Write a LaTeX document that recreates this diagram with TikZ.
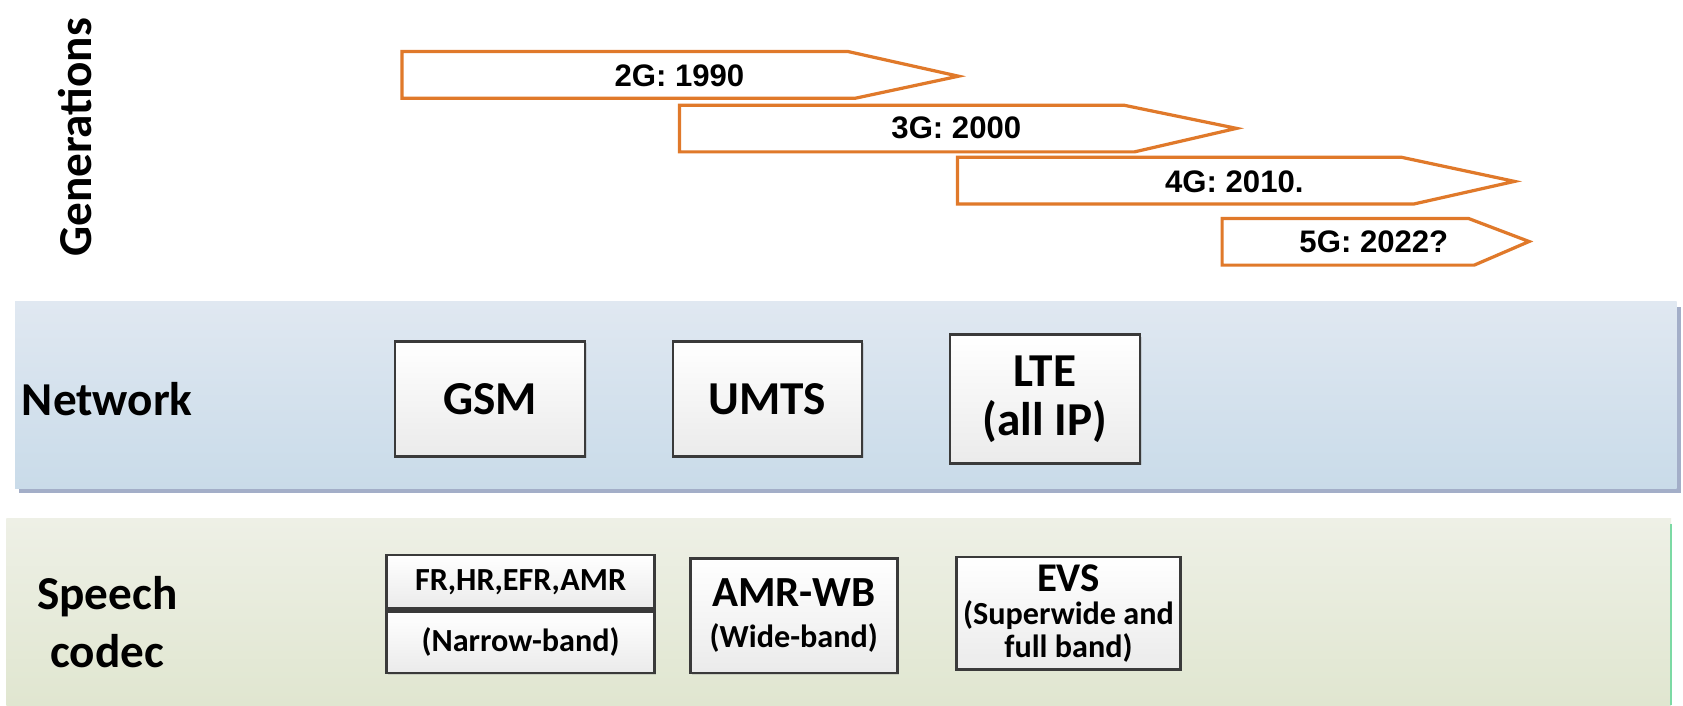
\documentclass[tikz,border=0pt]{standalone}
\usepackage{fontspec}
\setmainfont{Carlito}
\newfontfamily\arialf{Liberation Sans}
\usetikzlibrary{shadows}
\definecolor{orng}{HTML}{E0792A}
\definecolor{nettop}{HTML}{E0E8F1}
\definecolor{netbot}{HTML}{C9DBE9}
\definecolor{netshadow}{HTML}{A3AEC8}
\definecolor{spctop}{HTML}{EEF0E6}
\definecolor{spcbot}{HTML}{E0E6D0}
\definecolor{spcline}{HTML}{7CD9A4}
\definecolor{boxline}{HTML}{3A3A3A}
\tikzset{
  genarrow/.style={draw=orng, line width=1.5pt, fill=white, line join=miter},
  gentext/.style={font=\arialf\bfseries\fontsize{14.5}{16}\selectfont, inner sep=0pt},
  cbox/.style={draw=boxline, line width=1.3pt, top color=white, bottom color=black!8,
    drop shadow={shadow xshift=0.8pt, shadow yshift=-0.8pt, opacity=0.25},
    align=center, inner sep=0pt},
  lbl/.style={font=\bfseries\fontsize{22}{27}\selectfont, inner sep=0pt}
}
\begin{document}
\begin{tikzpicture}[x=0.5pt,y=-0.5pt]
\useasboundingbox (0,0) rectangle (1568,657);
\fill[white] (0,0) rectangle (1568,657);

% Generations label
\node[lbl, rotate=90] (gen) at (70,128) {Generations};

% generation arrows
\draw[genarrow] (374.5,48) -- (790,48) -- (893,71) -- (797,91.5) -- (374.5,91.5) -- cycle;
\node[gentext] (g2) at (633,71) {2G: 1990};
\draw[genarrow] (633,98) -- (1047,98) -- (1152,119.6) -- (1057,141.5) -- (633,141.5) -- cycle;
\node[gentext] (g3) at (891,119) {3G: 2000};
\draw[genarrow] (892,146.6) -- (1306,146.6) -- (1411,169) -- (1317.5,190) -- (892,190) -- cycle;
\node[gentext] (g4) at (1150,169.5) {4G: 2010.};
\draw[genarrow] (1138.6,203.5) -- (1368,203.5) -- (1424.6,225) -- (1373.5,247) -- (1138.6,247) -- cycle;
\node[gentext] (g5) at (1280,225) {5G: 2022?};

% Network band
\fill[netshadow] (18,286) rectangle (1566,459);
\shade[top color=nettop, bottom color=netbot] (14,281) rectangle (1562,455);
\node[lbl, anchor=west] (net) at (20,372) {Network};
\node[cbox, minimum width=88.5pt, minimum height=53.5pt, font=\bfseries\fontsize{22}{27}\selectfont] (gsm) at (456.5,371.5) {GSM};
\node[cbox, minimum width=88pt, minimum height=53.5pt, font=\bfseries\fontsize{22}{27}\selectfont] (umts) at (715,371.5) {UMTS};
\node[cbox, minimum width=88.5pt, minimum height=60pt, font=\bfseries\fontsize{22}{22.5}\selectfont] (lte) at (973.5,372) {LTE\\(all IP)};

% Speech codec band
\shade[top color=spctop, bottom color=spcbot] (6,483) rectangle (1557,657);
\draw[spcline, line width=1pt] (1557,488) -- (1557,657);
\node[lbl, align=center] (spc) at (100,580) {Speech\\codec};
\node[cbox, minimum width=125pt, minimum height=25pt, font=\bfseries\fontsize{15}{18}\selectfont] (fr) at (485,542) {FR,HR,EFR,AMR};
\node[cbox, minimum width=125pt, minimum height=28.5pt, font=\bfseries\fontsize{15}{18}\selectfont] (nb) at (485,598.5) {(Narrow-band)};
\node[cbox, minimum width=96.5pt, minimum height=53.5pt, font=\bfseries\fontsize{15}{19}\selectfont] (amr) at (739.5,573.5)
  {{\fontsize{20}{19}\selectfont AMR-WB}\\(Wide-band)};
\node[cbox, minimum width=104.5pt, minimum height=52.5pt, font=\bfseries\fontsize{15}{15.3}\selectfont] (evs) at (995.5,571.5)
  {{\fontsize{19}{15.3}\selectfont EVS}\\(Superwide and\\full band)};
\end{tikzpicture}
\end{document}
